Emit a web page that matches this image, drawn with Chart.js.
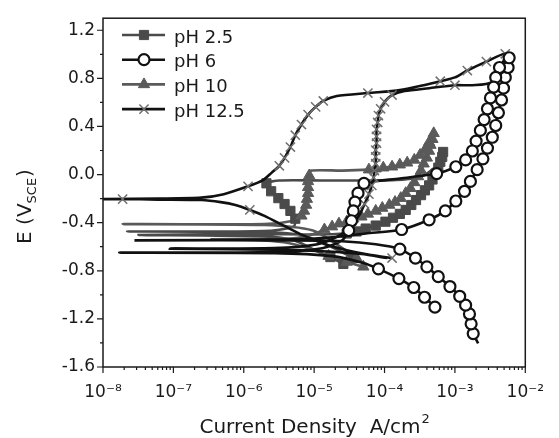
<!DOCTYPE html>
<html>
<head>
<meta charset="utf-8">
<script src="https://cdn.jsdelivr.net/npm/chart.js@4.4.1/dist/chart.umd.min.js"></script>
<style>
  html, body { margin: 0; padding: 0; background: #fff; }
  canvas { display: block; }
</style>
</head>
<body>
<canvas id="tafel" width="559" height="438"></canvas>
<script>
// ── Data ──────────────────────────────────────────────────────────────────
// Each row: [current density (A/cm2), potential (V vs SCE), symbol drawn (1) or line only (0)]
// Rows follow the scan order, so the line runs forward and then back.
var seriesNames = ['pH 2.5', 'pH 6', 'pH 10', 'pH 12.5'];

var ph25 = [
  [2.6e-5, -0.743, 1], [1.7e-5, -0.686, 1], [9.6e-6, -0.62, 0], [5.1e-6, -0.547, 0],
  [1.95e-6, -0.514, 0], [3.2e-8, -0.502, 0], [1.95e-6, -0.494, 0], [9.6e-6, -0.498, 0],
  [2.9e-5, -0.49, 1], [4.0e-5, -0.473, 1], [5.4e-5, -0.449, 1], [7.5e-5, -0.424, 1],
  [1.03e-4, -0.392, 1], [1.32e-4, -0.359, 1], [1.65e-4, -0.327, 1], [2.0e-4, -0.294, 1],
  [2.4e-4, -0.253, 1], [2.8e-4, -0.212, 1], [3.3e-4, -0.171, 1], [3.75e-4, -0.131, 1],
  [4.3e-4, -0.09, 1], [4.8e-4, -0.041, 1], [5.3e-4, 0.008, 1], [5.8e-4, 0.057, 1],
  [6.2e-4, 0.106, 1], [6.6e-4, 0.147, 1], [6.8e-4, 0.188, 1],
  [5.8e-4, 0.09, 0], [3.6e-4, -0.008, 0], [1.93e-4, -0.04, 0], [6.4e-5, -0.049, 0],
  [1.3e-5, -0.049, 0], [3.2e-6, -0.049, 0], [2.1e-6, -0.073, 1], [2.45e-6, -0.139, 1],
  [3.1e-6, -0.196, 1], [3.8e-6, -0.245, 1], [4.6e-6, -0.302, 1], [5.4e-6, -0.367, 1],
  [5.1e-6, -0.433, 0], [1.95e-6, -0.47, 0], [2.2e-8, -0.473, 0], [1.95e-6, -0.478, 0],
  [7.0e-6, -0.506, 0], [1.8e-5, -0.604, 0], [3.6e-5, -0.694, 1]
];

var ph6 = [
  [2.14e-3, -1.404, 0], [1.82e-3, -1.322, 1], [1.7e-3, -1.241, 1], [1.61e-3, -1.159, 1],
  [1.42e-3, -1.086, 1], [1.17e-3, -1.012, 1], [8.5e-4, -0.931, 1], [5.8e-4, -0.849, 1],
  [4.0e-4, -0.767, 1], [2.75e-4, -0.694, 1], [1.65e-4, -0.62, 1], [7.5e-5, -0.58, 0],
  [2.5e-5, -0.555, 0], [5.1e-6, -0.547, 0], [2.8e-8, -0.547, 0], [5.1e-6, -0.539, 0],
  [1.8e-5, -0.522, 0], [5.4e-5, -0.49, 0], [1.75e-4, -0.457, 1], [4.3e-4, -0.376, 1],
  [7.3e-4, -0.302, 1], [1.03e-3, -0.22, 1], [1.37e-3, -0.139, 1], [1.66e-3, -0.057, 1],
  [2.07e-3, 0.041, 1], [2.5e-3, 0.131, 1], [2.9e-3, 0.22, 1], [3.4e-3, 0.31, 1],
  [3.8e-3, 0.408, 1], [4.15e-3, 0.514, 1], [4.6e-3, 0.62, 1], [4.9e-3, 0.718, 1],
  [5.2e-3, 0.808, 1], [5.7e-3, 0.89, 1], [5.9e-3, 0.971, 1],
  [4.3e-3, 0.89, 1], [3.8e-3, 0.808, 1], [3.55e-3, 0.727, 1], [3.2e-3, 0.637, 1],
  [2.9e-3, 0.547, 1], [2.6e-3, 0.457, 1], [2.3e-3, 0.367, 1], [2.0e-3, 0.278, 1],
  [1.77e-3, 0.196, 1], [1.42e-3, 0.122, 1], [1.03e-3, 0.065, 1], [5.5e-4, 0.008, 1],
  [1.65e-4, -0.033, 0], [5.1e-5, -0.073, 1], [4.2e-5, -0.155, 1], [3.8e-5, -0.229, 1],
  [3.6e-5, -0.302, 1], [3.4e-5, -0.384, 1], [3.1e-5, -0.465, 1], [2.5e-5, -0.547, 0],
  [1.3e-5, -0.612, 0], [2.7e-6, -0.645, 0], [1.7e-8, -0.649, 0], [2.7e-6, -0.653, 0],
  [1.8e-5, -0.678, 0], [5.0e-5, -0.735, 0], [8.2e-5, -0.784, 1], [1.6e-4, -0.865, 1],
  [2.6e-4, -0.939, 1], [3.7e-4, -1.02, 1], [5.2e-4, -1.102, 1]
];

var ph10 = [
  [5.0e-5, -0.767, 1], [2.9e-5, -0.727, 1], [1.6e-5, -0.678, 1], [9.0e-6, -0.62, 0],
  [3.7e-6, -0.563, 0], [1.44e-6, -0.543, 0], [3.5e-7, -0.539, 0], [1.44e-6, -0.535, 0],
  [5.1e-6, -0.53, 0], [1.05e-5, -0.49, 0], [1.4e-5, -0.457, 1], [1.8e-5, -0.433, 1],
  [2.25e-5, -0.408, 1], [2.9e-5, -0.392, 1], [3.6e-5, -0.367, 1], [4.7e-5, -0.351, 1],
  [5.8e-5, -0.327, 1], [7.5e-5, -0.302, 1], [9.3e-5, -0.278, 1], [1.17e-4, -0.253, 1],
  [1.41e-4, -0.229, 1], [1.7e-4, -0.196, 1], [2.0e-4, -0.155, 1], [2.33e-4, -0.114, 1],
  [2.65e-4, -0.065, 1], [3.0e-4, -0.016, 1], [3.3e-4, 0.033, 1], [3.6e-4, 0.09, 1],
  [4.0e-4, 0.139, 1], [4.3e-4, 0.196, 1], [4.5e-4, 0.245, 1], [4.8e-4, 0.294, 1],
  [5.0e-4, 0.343, 1],
  [4.3e-4, 0.269, 1], [3.8e-4, 0.212, 1], [3.2e-4, 0.163, 1], [2.65e-4, 0.122, 1],
  [2.1e-4, 0.098, 1], [1.65e-4, 0.082, 1], [1.28e-4, 0.065, 1], [9.6e-5, 0.057, 1],
  [7.5e-5, 0.049, 1], [6.0e-5, 0.041, 1], [2.5e-5, 0.033, 0], [9.0e-6, 0.033, 0],
  [8.5e-6, -0.008, 1], [8.2e-6, -0.057, 1], [8.2e-6, -0.106, 1], [8.2e-6, -0.155, 1],
  [7.9e-6, -0.204, 1], [7.7e-6, -0.253, 1], [7.2e-6, -0.302, 1], [6.6e-6, -0.343, 1],
  [5.1e-6, -0.384, 0], [1.95e-6, -0.412, 0], [1.9e-8, -0.412, 0], [1.95e-6, -0.42, 0],
  [9.6e-6, -0.465, 0], [2.1e-5, -0.58, 0], [4.0e-5, -0.694, 1]
];

var ph125 = [
  [1.28e-4, -0.694, 1], [6.4e-5, -0.669, 0], [2.9e-5, -0.629, 0], [1.44e-5, -0.58, 0],
  [7.0e-6, -0.506, 0], [3.7e-6, -0.425, 0], [1.97e-6, -0.343, 0], [1.22e-6, -0.294, 1],
  [7.6e-7, -0.253, 0], [4.7e-7, -0.229, 0], [2.5e-7, -0.212, 0], [6.1e-8, -0.208, 0],
  [1.9e-8, -0.204, 1], [1.0e-8, -0.204, 0], [6.1e-8, -0.2, 0], [2.5e-7, -0.192, 0],
  [5.2e-7, -0.163, 0], [1.15e-6, -0.098, 1], [1.85e-6, -0.049, 0], [2.5e-6, 0.016, 0],
  [3.2e-6, 0.073, 1], [3.8e-6, 0.139, 1], [4.6e-6, 0.229, 1], [5.4e-6, 0.327, 1],
  [6.6e-6, 0.416, 1], [8.2e-6, 0.498, 1], [1.05e-5, 0.563, 1], [1.35e-5, 0.612, 1],
  [2.1e-5, 0.653, 0], [5.8e-5, 0.678, 1], [1.65e-4, 0.702, 0], [3.6e-4, 0.743, 0],
  [6.2e-4, 0.776, 1], [1.0e-3, 0.808, 0], [1.5e-3, 0.865, 1], [2.8e-3, 0.939, 1],
  [5.2e-3, 1.004, 1],
  [4.6e-3, 0.906, 0], [3.3e-3, 0.767, 0], [1.77e-3, 0.743, 0], [1.0e-3, 0.743, 1],
  [4.3e-4, 0.718, 0], [1.93e-4, 0.694, 0], [1.28e-4, 0.661, 1], [1.0e-4, 0.604, 1],
  [8.8e-5, 0.547, 1], [8.2e-5, 0.49, 1], [8.0e-5, 0.433, 1], [7.7e-5, 0.376, 1],
  [7.7e-5, 0.318, 1], [7.7e-5, 0.261, 1], [7.5e-5, 0.204, 1], [7.5e-5, 0.147, 1],
  [7.5e-5, 0.09, 1], [7.2e-5, 0.033, 1], [7.0e-5, -0.024, 1], [6.6e-5, -0.09, 1],
  [6.0e-5, -0.163, 1], [5.2e-5, -0.245, 1], [4.4e-5, -0.335, 0], [3.4e-5, -0.425, 0],
  [2.3e-5, -0.506, 0], [1.12e-5, -0.58, 0], [2.7e-6, -0.612, 0], [8.9e-8, -0.616, 0],
  [2.7e-6, -0.624, 0], [1.3e-5, -0.637, 0], [4.7e-5, -0.661, 0], [1.1e-4, -0.694, 0]
];

var xTicks      = [1e-8, 1e-7, 1e-6, 1e-5, 1e-4, 1e-3, 1e-2];
var xTickLabels = ['10⁻⁸', '10⁻⁷', '10⁻⁶', '10⁻⁵', '10⁻⁴', '10⁻³', '10⁻²'];
var yTicks      = [-1.6, -1.2, -0.8, -0.4, 0, 0.4, 0.8, 1.2];
var yTickLabels = ['-1.6', '-1.2', '-0.8', '-0.4', '0.0', '0.4', '0.8', '1.2'];

// ── Styles ────────────────────────────────────────────────────────────────
var FONT = '"DejaVu Sans", "Liberation Sans", sans-serif';
var styles = {
  'pH 2.5':  { line: '#4a4a4a', fill: '#4a4a4a', edge: '#4a4a4a', shape: 'rect',     r: 6.5, bw: 1 },
  'pH 6':    { line: '#111111', fill: '#ffffff', edge: '#111111', shape: 'circle',   r: 5.5, bw: 2.2 },
  'pH 10':   { line: '#5a5a5a', fill: '#5a5a5a', edge: '#5a5a5a', shape: 'triangle', r: 6.5, bw: 1 },
  'pH 12.5': { line: '#111111', fill: 'rgba(0,0,0,0)', edge: '#707070', shape: 'crossRot', r: 6.5, bw: 1.5 }
};
var seriesRows = { 'pH 2.5': ph25, 'pH 6': ph6, 'pH 10': ph10, 'pH 12.5': ph125 };

function toXY(rows) {
  return rows.map(function(r) { return { x: r[0], y: r[1] }; });
}

// lines below, symbols on top; the gray pair sits under the black pair
var lineOrder = { 'pH 2.5': 8, 'pH 10': 7, 'pH 12.5': 4, 'pH 6': 3 };
var markOrder = { 'pH 2.5': 6, 'pH 10': 5, 'pH 12.5': 2, 'pH 6': 1 };

var datasets = [];
seriesNames.forEach(function(name) {
  var st = styles[name];
  var rows = seriesRows[name];
  datasets.push({
    label:       name,
    data:        toXY(rows),
    showLine:    true,
    borderColor: st.line,
    borderWidth: 2.6,
    pointRadius: 0,
    tension:     0.25,
    order:       lineOrder[name]
  });
  datasets.push({
    label:                name + ' symbols',
    data:                 toXY(rows.filter(function(r) { return r[2]; })),
    showLine:             false,
    pointStyle:           st.shape,
    pointRadius:          st.r,
    pointBackgroundColor: st.fill,
    pointBorderColor:     st.edge,
    pointBorderWidth:     st.bw,
    order:                markOrder[name]
  });
});

// ── Decoration: frame, ticks, titles, legend ──────────────────────────────
function drawSymbol(ctx, st, x, y) {
  ctx.fillStyle   = st.fill;
  ctx.strokeStyle = st.edge;
  ctx.lineWidth   = st.bw;
  Chart.helpers.drawPoint(ctx, { pointStyle: st.shape, radius: st.r, rotation: 0, borderWidth: st.bw }, x, y);
}

var decor = {
  id: 'decor',
  afterDraw: function(chart) {
    var ctx = chart.ctx, a = chart.chartArea;
    var xs = chart.scales.x, ys = chart.scales.y;
    ctx.save();

    // frame
    ctx.strokeStyle = '#1a1a1a';
    ctx.lineWidth = 1.5;
    ctx.strokeRect(a.left, a.top, a.right - a.left, a.bottom - a.top);

    // y ticks (major + minor halfway)
    ctx.lineWidth = 1.2;
    ctx.beginPath();
    yTicks.forEach(function(v, i) {
      var p = ys.getPixelForValue(v);
      ctx.moveTo(a.left - 6, p); ctx.lineTo(a.left, p);
      if (i < yTicks.length - 1) {
        var q = ys.getPixelForValue((v + yTicks[i + 1]) / 2);
        ctx.moveTo(a.left - 3, q); ctx.lineTo(a.left, q);
      }
    });
    // x ticks (decades + 2..9)
    xTicks.forEach(function(v, i) {
      var p = xs.getPixelForValue(v);
      ctx.moveTo(p, a.bottom); ctx.lineTo(p, a.bottom + 6);
      if (i < xTicks.length - 1) {
        for (var k = 2; k < 10; k++) {
          var q = xs.getPixelForValue(v * k);
          ctx.moveTo(q, a.bottom); ctx.lineTo(q, a.bottom + 3);
        }
      }
    });
    ctx.stroke();

    // axis titles
    ctx.fillStyle = '#1a1a1a';
    ctx.textBaseline = 'alphabetic';
    ctx.textAlign = 'left';

    var big = '20px ' + FONT, small = '13px ' + FONT;
    ctx.font = big;
    var t1 = 'Current Density  A/cm';
    var w1 = ctx.measureText(t1).width;
    ctx.font = small;
    var w2 = ctx.measureText('2').width;
    var x0 = (a.left + a.right) / 2 - (w1 + w2) / 2;
    ctx.font = big;
    ctx.fillText(t1, x0, 433);
    ctx.font = small;
    ctx.fillText('2', x0 + w1 + 1, 423);

    ctx.save();
    ctx.translate(31, 207);
    ctx.rotate(-Math.PI / 2);
    ctx.font = big;
    var e1 = ctx.measureText('E (V').width, e3 = ctx.measureText(')').width;
    ctx.font = small;
    var e2 = ctx.measureText('SCE').width;
    var ex = -(e1 + e2 + e3) / 2;
    ctx.font = big;  ctx.fillText('E (V', ex, 0);
    ctx.font = small; ctx.fillText('SCE', ex + e1, 5);
    ctx.font = big;  ctx.fillText(')', ex + e1 + e2 + 1, 0);
    ctx.restore();

    // legend
    seriesNames.forEach(function(name, i) {
      var st = styles[name];
      var y = 35 + i * 24.7;
      ctx.strokeStyle = st.line;
      ctx.lineWidth = 2.6;
      ctx.beginPath();
      ctx.moveTo(122, y); ctx.lineTo(165, y);
      ctx.stroke();
      drawSymbol(ctx, st, 144, y);
      ctx.fillStyle = '#1a1a1a';
      ctx.font = '18px ' + FONT;
      ctx.fillText(name, 174, y + 7.5);
    });

    ctx.restore();
  }
};

// ── Chart ─────────────────────────────────────────────────────────────────
new Chart(document.getElementById('tafel'), {
  type: 'scatter',
  data: { datasets: datasets },
  options: {
    responsive: false,
    animation: false,
    devicePixelRatio: 1,
    layout: { padding: { top: 12, right: 19, left: 0, bottom: 0 } },
    plugins: {
      legend:  { display: false },
      tooltip: { enabled: false }
    },
    scales: {
      x: {
        type: 'logarithmic',
        min: 1e-8,
        max: 1e-2,
        afterFit: function(s) { s.height = 71; },
        afterBuildTicks: function(s) { s.ticks = xTicks.map(function(v) { return { value: v }; }); },
        ticks: {
          callback: function(v, i) { return xTickLabels[i]; },
          autoSkip: false,
          maxRotation: 0,
          padding: 15,
          color: '#1a1a1a',
          font: { family: FONT, size: 17 }
        },
        grid:   { display: false, drawTicks: false },
        border: { display: false }
      },
      y: {
        min: -1.6,
        max: 1.3,
        afterFit: function(s) { s.width = 103; },
        afterBuildTicks: function(s) { s.ticks = yTicks.map(function(v) { return { value: v }; }); },
        ticks: {
          callback: function(v, i) { return yTickLabels[i]; },
          padding: 8,
          color: '#1a1a1a',
          font: { family: FONT, size: 17 }
        },
        grid:   { display: false, drawTicks: false },
        border: { display: false }
      }
    }
  },
  plugins: [decor]
});
</script>
</body>
</html>
